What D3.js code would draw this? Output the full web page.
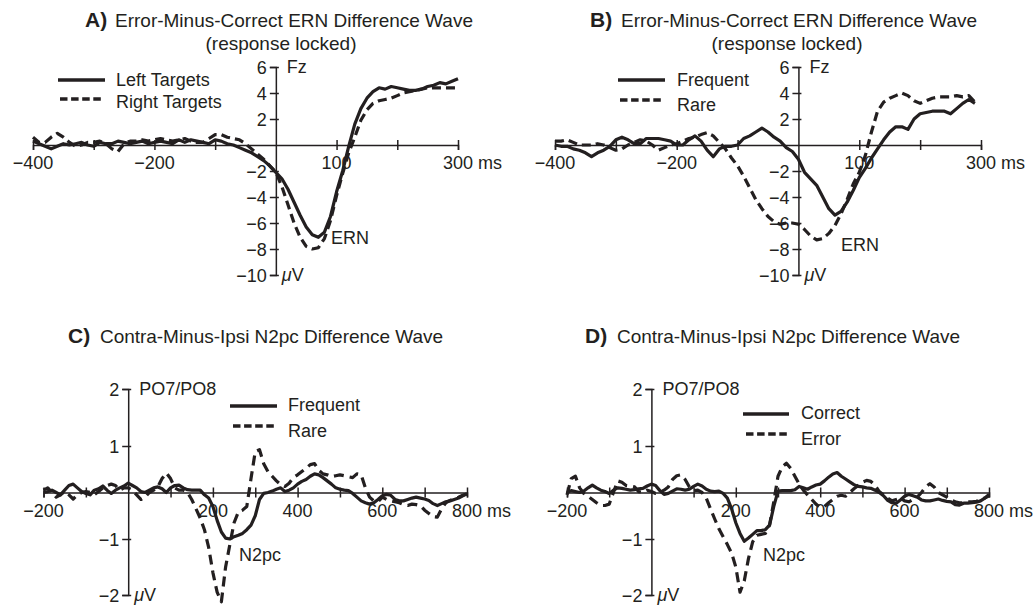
<!DOCTYPE html>
<html><head><meta charset="utf-8">
<script src="https://cdn.jsdelivr.net/npm/d3@7"></script>
<style>
body{margin:0;background:#fff}
text{font-family:"Liberation Sans", Arial, Helvetica, sans-serif; fill:#231f20}
</style>
</head><body>
<svg id="chart" width="1035" height="606"></svg>
<script>
// ---------- DATA ----------
const ernTime = [-400,-390,-380,-370,-360,-350,-340,-330,-320,-310,-300,-290,-280,-270,-260,-250,-240,-230,-220,-210,-200,-190,-180,-170,-160,-150,-140,-130,-120,-110,-100,-90,-80,-70,-60,-50,-40,-30,-20,-10,0,10,20,30,40,50,60,70,80,90,100,110,120,130,140,150,160,170,180,190,200,210,220,230,240,250,260,270,280,290,300];
const n2pcTime = [-200,-190,-180,-170,-160,-150,-140,-130,-120,-110,-100,-90,-80,-70,-60,-50,-40,-30,-20,-10,0,10,20,30,40,50,60,70,80,90,100,110,120,130,140,150,160,170,180,190,200,210,220,230,240,250,260,270,280,290,300,310,320,330,340,350,360,370,380,390,400,410,420,430,440,450,460,470,480,490,500,510,520,530,540,550,560,570,580,590,600,610,620,630,640,650,660,670,680,690,700,710,720,730,740,750,760,770,780,790,800];

const ernA_Left = [0.3,0.1,-0.1,-0.3,-0.1,0.1,0.0,0.1,0.2,0.0,
 -0.1,0.2,0.1,0.1,0.3,0.2,0.1,0.2,0.3,0.1,
 0.2,0.3,0.2,0.1,0.4,0.2,0.4,0.3,0.2,0.1,
 0.4,0.3,0.1,0.0,-0.2,-0.4,-0.6,-0.9,-1.2,-1.6,
 -2.1,-2.6,-3.4,-4.4,-5.4,-6.3,-6.9,-7.1,-6.7,-5.5,
 -3.6,-2.0,-0.1,1.6,2.8,3.6,4.1,4.4,4.3,4.5,
 4.4,4.3,4.2,4.2,4.3,4.5,4.6,4.8,4.7,4.9,
 5.1];
const ernA_Right = [0.6,0.2,0.2,0.6,0.9,0.6,0.2,-0.1,0.0,0.2,
 0.2,0.3,0.1,-0.3,-0.5,0.1,0.3,0.3,0.4,0.3,
 0.4,0.5,0.4,0.3,0.4,0.5,0.3,0.2,0.2,0.5,
 0.8,0.8,0.6,0.5,0.4,0.1,-0.3,-0.7,-1.1,-1.6,
 -2.1,-3.2,-4.6,-6.0,-7.1,-7.8,-8.0,-7.9,-7.2,-5.8,
 -3.9,-2.2,-0.6,0.6,1.9,2.7,3.2,3.4,3.5,3.6,
 3.8,4.0,4.1,4.2,4.3,4.4,4.4,4.4,4.4,4.4,
 4.4];
const ernB_Frequent = [0.0,-0.1,-0.1,-0.3,-0.4,-0.6,-0.9,-0.6,-0.4,-0.1,
 0.4,0.6,0.4,0.1,0.1,0.5,0.5,0.5,0.4,0.3,
 0.0,0.0,0.4,0.7,0.3,-0.4,-0.9,-0.3,-0.1,-0.1,
 0.0,0.5,0.7,1.0,1.3,1.0,0.6,0.3,-0.2,-0.5,
 -1.1,-2.1,-2.6,-3.1,-4.0,-4.9,-5.4,-5.1,-4.4,-3.5,
 -2.5,-1.8,-1.0,-0.3,0.4,1.0,1.4,1.4,1.2,2.0,
 2.4,2.5,2.6,2.6,2.6,2.4,2.8,3.2,3.5,3.2];
const ernB_Rare = [0.3,0.3,0.4,0.2,0.0,0.0,0.0,0.1,0.0,-0.2,
 -0.4,-0.3,0.0,0.2,0.4,0.3,0.0,-0.4,-0.2,0.0,
 0.1,0.3,0.5,0.6,0.8,0.95,0.7,0.2,-0.3,-1.0,
 -1.6,-2.4,-3.3,-4.2,-4.9,-5.5,-5.9,-6.1,-6.0,-6.0,
 -6.1,-6.5,-7.0,-7.3,-7.2,-6.8,-6.2,-5.3,-4.2,-3.0,
 -2.1,-0.8,1.0,2.6,3.3,3.6,3.8,4.0,3.8,3.4,
 3.2,3.4,3.6,3.7,3.7,3.7,3.8,3.7,3.8,3.3];

const n2pcC_Frequent = [0.0,0.02,0.05,0.0,-0.05,0.05,0.15,0.18,0.1,0.02,
 -0.02,-0.05,0.05,0.08,0.14,0.05,-0.02,0.05,0.1,0.14,
 0.2,0.15,0.1,0.02,0.0,0.05,0.1,0.12,0.08,0.0,
 0.1,0.15,0.16,0.1,0.06,0.05,0.05,0.05,-0.05,-0.12,
 -0.3,-0.6,-0.85,-0.98,-1.0,-0.95,-0.92,-0.88,-0.8,-0.7,
 -0.5,-0.15,-0.02,0.0,0.03,0.07,0.1,0.02,0.05,0.1,
 0.18,0.24,0.28,0.35,0.4,0.38,0.32,0.25,0.18,0.1,
 0.07,0.05,0.04,-0.02,-0.1,-0.18,-0.22,-0.25,-0.22,-0.15,
 -0.07,-0.04,-0.06,-0.15,-0.18,-0.18,-0.15,-0.12,-0.1,-0.12,
 -0.14,-0.17,-0.24,-0.28,-0.24,-0.2,-0.18,-0.15,-0.12,-0.07,
 -0.03];
const n2pcC_Rare = [0.05,0.1,0.0,-0.1,-0.05,0.02,-0.05,-0.14,-0.05,0.0,
 0.02,0.0,-0.05,0.02,0.1,0.15,0.18,0.15,0.05,0.1,
 0.1,0.05,-0.05,-0.15,-0.1,0.0,0.05,0.12,0.3,0.42,
 0.3,0.1,0.05,0.05,0.0,-0.15,-0.35,-0.55,-0.8,-1.15,
 -1.6,-1.95,-2.12,-1.5,-1.1,-0.65,-0.42,-0.38,-0.3,0.3,
 0.88,0.92,0.62,0.45,0.35,0.25,0.17,0.13,0.2,0.32,
 0.38,0.45,0.52,0.6,0.62,0.48,0.4,0.38,0.34,0.36,
 0.38,0.36,0.34,0.32,0.4,0.38,0.1,-0.1,-0.18,-0.2,
 -0.1,-0.15,-0.18,-0.2,-0.22,-0.26,-0.28,-0.25,-0.26,-0.28,
 -0.38,-0.45,-0.52,-0.53,-0.35,-0.22,-0.17,-0.13,-0.1,-0.06,
 -0.03];
const n2pcD_Correct = [0.0,0.04,0.02,0.0,0.03,0.1,0.16,0.1,0.05,0.02,
 -0.02,0.05,0.1,0.09,0.07,0.05,0.06,0.08,0.09,0.14,
 0.18,0.15,0.04,-0.04,-0.02,0.03,0.08,0.07,0.05,0.07,
 0.13,0.18,0.14,0.07,0.03,0.02,0.03,-0.02,-0.12,-0.35,
 -0.65,-0.88,-1.04,-0.98,-0.9,-0.82,-0.82,-0.8,-0.7,-0.3,
 0.03,0.04,0.04,0.04,0.06,0.13,0.1,0.07,0.12,0.16,
 0.18,0.25,0.33,0.4,0.43,0.35,0.29,0.23,0.17,0.13,
 0.12,0.1,0.09,0.05,0.0,-0.07,-0.17,-0.22,-0.23,-0.16,
 -0.08,-0.04,-0.07,-0.1,-0.16,-0.18,-0.18,-0.16,-0.14,-0.17,
 -0.19,-0.2,-0.26,-0.27,-0.23,-0.23,-0.22,-0.21,-0.18,-0.12,
 -0.04];
const n2pcD_Error = [-0.05,0.3,0.35,0.1,-0.02,-0.08,-0.15,-0.22,-0.28,-0.28,
 -0.25,0.0,0.25,0.22,0.15,0.14,0.12,0.02,0.0,0.05,
 0.02,-0.02,0.0,0.05,0.12,0.28,0.36,0.38,0.28,0.12,
 0.04,0.05,0.0,-0.12,-0.35,-0.57,-0.78,-0.95,-1.1,-1.25,
 -1.5,-1.95,-1.75,-1.35,-1.05,-0.92,-0.9,-0.88,-0.7,-0.2,
 0.35,0.55,0.63,0.52,0.35,0.18,0.05,-0.05,-0.15,-0.25,
 -0.32,-0.3,-0.22,-0.15,-0.08,-0.06,-0.08,0.0,0.08,0.15,
 0.22,0.26,0.24,0.15,0.02,-0.05,-0.12,-0.18,-0.15,-0.12,
 -0.18,-0.2,-0.15,-0.1,0.0,0.12,0.19,0.12,0.0,-0.05,
 -0.1,-0.16,-0.2,-0.22,-0.22,-0.2,-0.2,-0.19,-0.16,-0.12,
 -0.07];

const ernXTicks = [-400,-300,-200,-100,100,200,300];
const ernXLabels = [-400,-200,100,300];
const ernYTicks = [6,4,2,-2,-4,-6,-8,-10];
const n2pcXTicks = [-200,-100,100,200,300,400,500,600,700,800];
const n2pcXLabels = [-200,200,400,600,800];
const n2pcYTicks = [2,1,-1,-2];

const titleLetters = ["A)","B)","C)","D)"];
const titleTexts = ["Error-Minus-Correct ERN Difference Wave","Error-Minus-Correct ERN Difference Wave","Contra-Minus-Ipsi N2pc Difference Wave","Contra-Minus-Ipsi N2pc Difference Wave"];
const subTitle = "(response locked)";
const legendA = ["Left Targets","Right Targets"];
const legendB = ["Frequent","Rare"];
const legendC = ["Frequent","Rare"];
const legendD = ["Correct","Error"];
const electrodeERN = "Fz";
const electrodeN2pc = "PO7/PO8";
const componentERN = "ERN";
const componentN2pc = "N2pc";

// ---------- LAYOUT ----------
const INK = "#231f20";
const panels = [
 {i:0, time:ernTime, series:[ernA_Left, ernA_Right], legend:legendA, xDomain:[-400,300], xRange:[33,458],
  yDomain:[-10,6], yRange:[275,67], xTicks:ernXTicks, xLabels:ernXLabels, yTicks:ernYTicks, top:electrodeERN,
  letterX:85, textX:115, titleY:27, titleLen:358, sub:true, subX:281, subY:50, dash:"9,5",
  leg:{sx1:58,sx2:105,dx1:60,dx2:101,sy:80,dy:99,tx:116,ty1:86,ty2:108},
  comp:componentERN, compX:331, compY:244},
 {i:1, time:ernTime, series:[ernB_Frequent, ernB_Rare], legend:legendB, xDomain:[-400,300], xRange:[555,981],
  yDomain:[-10,6], yRange:[275,67], xTicks:ernXTicks, xLabels:ernXLabels, yTicks:ernYTicks, top:electrodeERN,
  letterX:590, textX:621, titleY:27, titleLen:356, sub:true, subX:787, subY:50, dash:"9,5",
  leg:{sx1:618,sx2:665,dx1:620,dx2:661,sy:80,dy:100,tx:677,ty1:86,ty2:111},
  comp:componentERN, compX:841, compY:251},
 {i:2, time:n2pcTime, series:[n2pcC_Frequent, n2pcC_Rare], legend:legendC, xDomain:[-200,800], xRange:[43.5,467],
  yDomain:[-2,-1,0,1,2], yRange:[595,539,492.5,446,389], xTicks:n2pcXTicks, xLabels:n2pcXLabels, yTicks:n2pcYTicks, top:electrodeN2pc,
  letterX:68, textX:100, titleY:343, titleLen:343, sub:false, dash:"10,6",
  leg:{sx1:230,sx2:277,dx1:233,dx2:274,sy:406,dy:426,tx:288,ty1:411,ty2:437},
  comp:componentN2pc, compX:239, compY:561},
 {i:3, time:n2pcTime, series:[n2pcD_Correct, n2pcD_Error], legend:legendD, xDomain:[-200,800], xRange:[567,989],
  yDomain:[-2,-1,0,1,2], yRange:[595,539,492.5,446,389], xTicks:n2pcXTicks, xLabels:n2pcXLabels, yTicks:n2pcYTicks, top:electrodeN2pc,
  letterX:585, textX:617, titleY:343, titleLen:343, sub:false, dash:"10,6",
  leg:{sx1:743,sx2:789,dx1:746,dx2:790,sy:414,dy:434,tx:801,ty1:419,ty2:445},
  comp:componentN2pc, compX:763, compY:561}
];

const svg = d3.select("#chart");
const FS = 18;
const fmt = v => v < 0 ? "\u2212" + Math.abs(v) : String(v);

panels.forEach(p => {
  const x = d3.scaleLinear().domain(p.xDomain).range(p.xRange);
  const y = d3.scaleLinear().domain(p.yDomain).range(p.yRange);
  const g = svg.append("g");
  const y0 = y(0), x0 = x(0);

  // title
  g.append("text").attr("x", p.letterX).attr("y", p.titleY)
    .attr("font-size", 21).attr("font-weight", "bold").text(titleLetters[p.i]);
  g.append("text").attr("x", p.textX).attr("y", p.titleY)
    .attr("font-size", 19).attr("textLength", p.titleLen).attr("lengthAdjust", "spacing")
    .text(titleTexts[p.i]);
  if (p.sub) g.append("text").attr("x", p.subX).attr("y", p.subY)
    .attr("font-size", 19).attr("text-anchor", "middle").text(subTitle);

  // x axis
  const xa = g.append("g").attr("transform", `translate(0,${y0})`)
    .call(d3.axisBottom(x).tickValues(p.xTicks).tickSizeOuter(0).tickSize(5).tickFormat(""));
  xa.select(".domain").attr("stroke", INK).attr("stroke-width", 1.5);
  xa.selectAll(".tick line").attr("y1", -5).attr("y2", 5).attr("stroke", INK).attr("stroke-width", 1.5);

  p.xLabels.forEach((t, k) => {
    const tx = g.append("text").attr("x", x(t)).attr("y", y0 + 24)
      .attr("font-size", FS).attr("text-anchor", "middle").text(fmt(t));
    if (k === p.xLabels.length - 1) {
      const bb = tx.node().getBBox();
      g.append("text").attr("x", bb.x + bb.width + 5).attr("y", y0 + 24)
        .attr("font-size", FS).text("ms");
    }
  });

  // y axis
  const ya = g.append("g").attr("transform", `translate(${x0},0)`)
    .call(d3.axisLeft(y).tickValues(p.yTicks).tickSizeOuter(0).tickSize(6).tickFormat(fmt));
  ya.attr("font-size", null).attr("font-family", null);
  ya.select(".domain").attr("stroke", INK).attr("stroke-width", 1.5);
  ya.selectAll(".tick line").attr("x1", 3).attr("x2", -6).attr("stroke", INK).attr("stroke-width", 1.5);
  ya.selectAll(".tick text").attr("x", -9).attr("dy", "0.35em").attr("font-size", FS).attr("fill", INK);

  const yTop = y(p.yDomain[p.yDomain.length - 1]), yBot = y(p.yDomain[0]);
  g.append("text").attr("x", x0 + 11).attr("y", yTop).attr("dy", "0.35em")
    .attr("font-size", FS).text(p.top);
  const uv = g.append("text").attr("x", x0 + 6).attr("y", yBot).attr("dy", "0.35em").attr("font-size", FS);
  uv.append("tspan").attr("font-style", "italic").text("\u03BC");
  uv.append("tspan").text("V");

  // lines
  const line = d3.line().x((d, k) => x(p.time[k])).y(d => y(d));
  p.series.forEach((s, k) => {
    g.append("path").datum(s).attr("d", line).attr("fill", "none")
      .attr("stroke", INK).attr("stroke-width", 3.2).attr("stroke-linejoin", "round")
      .attr("stroke-dasharray", k === 1 ? p.dash : null);
  });

  // legend
  const L = p.leg;
  g.append("line").attr("x1", L.sx1).attr("x2", L.sx2).attr("y1", L.sy).attr("y2", L.sy)
    .attr("stroke", INK).attr("stroke-width", 3.5);
  g.append("line").attr("x1", L.dx1).attr("x2", L.dx2).attr("y1", L.dy).attr("y2", L.dy)
    .attr("stroke", INK).attr("stroke-width", 3.5).attr("stroke-dasharray", "7.5,3.6");
  g.append("text").attr("x", L.tx).attr("y", L.ty1).attr("font-size", FS).text(p.legend[0]);
  g.append("text").attr("x", L.tx).attr("y", L.ty2).attr("font-size", FS).text(p.legend[1]);

  // component label
  g.append("text").attr("x", p.compX).attr("y", p.compY).attr("font-size", FS).text(p.comp);
});
</script>
</body></html>
